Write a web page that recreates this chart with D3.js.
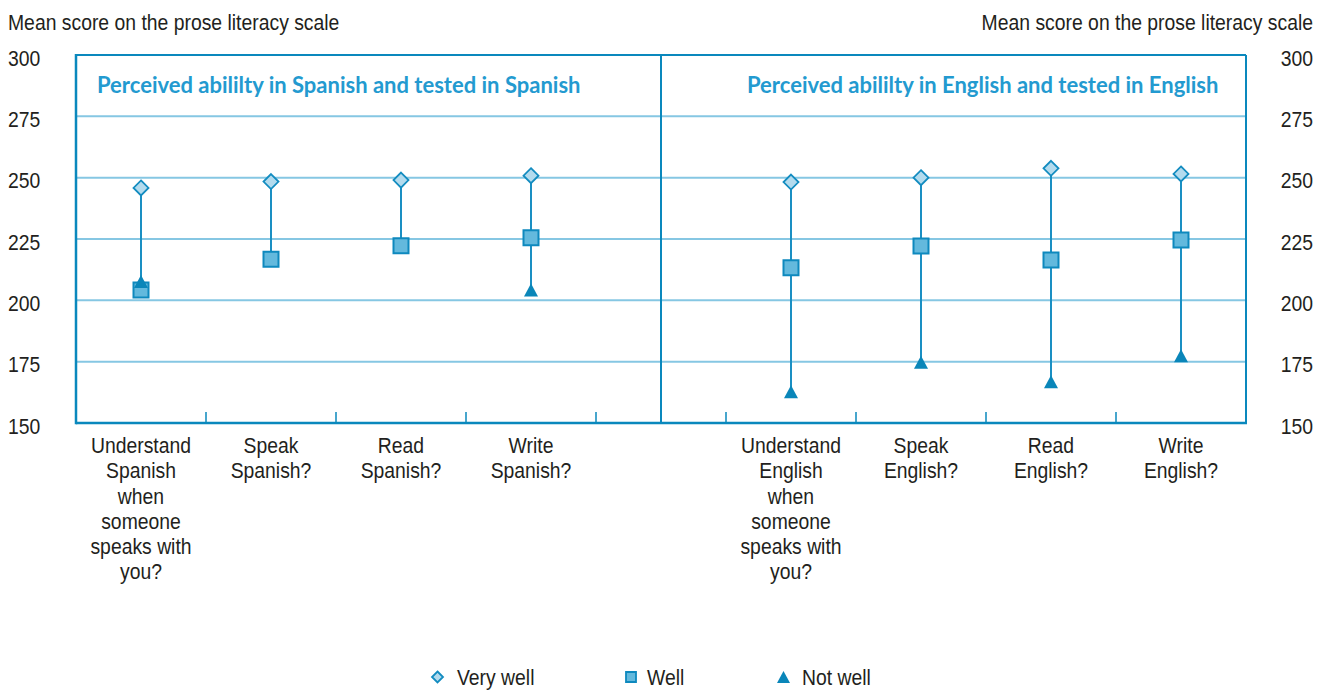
<!DOCTYPE html>
<html>
<head>
<meta charset="utf-8">
<script src="https://cdn.jsdelivr.net/npm/d3@7"></script>
<style>
  body { margin: 0; background: #fff; }
  svg { display: block; }
  .narrow { font-family: "Liberation Sans Narrow", "Arial Narrow", "Liberation Sans", sans-serif; font-size: 22px; fill: #231f20; }
  .panel-title { font-family: Lato, "Open Sans", sans-serif; font-weight: 700; font-size: 22px; fill: #239ad0; }
</style>
</head>
<body>
<svg id="chart" width="1327" height="690"></svg>
<script>
// Question keys, in drawing order; "gap" is the empty slot between the two panels
const categories = ["undES", "speakES", "readES", "writeES", "gap", "undEN", "speakEN", "readEN", "writeEN"];

// Multi-line question labels under each slot
const categoryLabels = {
  undES: ["Understand", "Spanish", "when", "someone", "speaks with", "you?"],
  speakES: ["Speak", "Spanish?"],
  readES: ["Read", "Spanish?"],
  writeES: ["Write", "Spanish?"],
  undEN: ["Understand", "English", "when", "someone", "speaks with", "you?"],
  speakEN: ["Speak", "English?"],
  readEN: ["Read", "English?"],
  writeEN: ["Write", "English?"]
};

const questions = ["undES", "speakES", "readES", "writeES", "undEN", "speakEN", "readEN", "writeEN"];

// Mean prose literacy score by self-rated ability
const veryWell = [245.8, 248.4, 249.0, 250.8, 248.2, 250.0, 253.8, 251.5];
const well     = [204.2, 216.7, 222.2, 225.5, 213.3, 222.1, 216.4, 224.6];
const notWell  = [207.7, null, null, 204.2, 162.7, 174.8, 166.8, 177.4];

const yTicks = [150, 175, 200, 225, 250, 275, 300];
const panelTitles = [
  { text: "Perceived abililty in Spanish and tested in Spanish", first: "undES" },
  { text: "Perceived abililty in English and tested in English", first: "undEN" }
];
const legendItems = ["Very well", "Well", "Not well"];
const axisTitle = "Mean score on the prose literacy scale";

const C = {
  frame: "#0a88bd",
  grid: "#86c7e3",
  stem: "#1a8fc3",
  diamondFill: "#b3dbee",
  diamondStroke: "#138cc0",
  squareFill: "#63b9dd",
  squareStroke: "#0e89be",
  triangle: "#0a86b9"
};

// Horizontal squeeze giving the regular sans a condensed look
const SQUEEZE = 0.88;
const place = (px, py) => `translate(${px},${py}) scale(${SQUEEZE},1)`;

const svg = d3.select("#chart");
const plotLeft = 76, plotRight = 1246, plotTop = 55, plotBottom = 423;

const x = d3.scaleBand().domain(categories).range([plotLeft, plotRight]).padding(0);
const y = d3.scaleLinear().domain([150, 300]).range([plotBottom, plotTop]);
const cx = k => x(k) + x.bandwidth() / 2;

// Horizontal gridlines
svg.append("g")
  .selectAll("line")
  .data(yTicks.filter(v => v > 150 && v < 300))
  .join("line")
  .attr("x1", plotLeft).attr("x2", plotRight)
  .attr("y1", d => y(d)).attr("y2", d => y(d))
  .attr("stroke", C.grid).attr("stroke-width", 2);

// Y tick labels on both sides
function styleYAxis(g, anchor) {
  g.attr("font-family", null).attr("font-size", null);
  g.select(".domain").remove();
  g.selectAll("text").attr("class", "narrow").attr("text-anchor", anchor)
    .attr("dy", null).attr("x", 0).attr("y", 0).attr("fill", null)
    .attr("transform", place(0, 10));
}
const gl = svg.append("g").attr("transform", "translate(8,0)")
  .call(d3.axisLeft(y).tickValues(yTicks).tickSize(0).tickPadding(0));
styleYAxis(gl, "start");
const gr = svg.append("g").attr("transform", "translate(1313,0)")
  .call(d3.axisRight(y).tickValues(yTicks).tickSize(0).tickPadding(0));
styleYAxis(gr, "end");

// Axis titles
svg.append("text").attr("class", "narrow").attr("transform", place(8, 30)).text(axisTitle);
svg.append("text").attr("class", "narrow").attr("transform", place(1313, 30))
  .attr("text-anchor", "end").text(axisTitle);

// Frame and panel divider
const frame = svg.append("g").attr("stroke", C.frame).attr("fill", "none");
frame.append("line").attr("x1", plotLeft).attr("x2", plotRight).attr("y1", plotTop).attr("y2", plotTop).attr("stroke-width", 2);
frame.append("line").attr("x1", plotRight).attr("x2", plotRight).attr("y1", plotTop).attr("y2", plotBottom).attr("stroke-width", 2);
frame.append("line").attr("x1", plotLeft).attr("x2", plotLeft).attr("y1", plotTop - 1).attr("y2", plotBottom + 1.25).attr("stroke-width", 2.5);
frame.append("line").attr("x1", plotLeft).attr("x2", plotRight + 1).attr("y1", plotBottom).attr("y2", plotBottom).attr("stroke-width", 2.5);
frame.append("line").attr("x1", cx("gap")).attr("x2", cx("gap")).attr("y1", plotTop).attr("y2", plotBottom).attr("stroke-width", 2);

// Tick marks at slot boundaries
frame.selectAll("line.tick")
  .data(categories.slice(1))
  .join("line").attr("class", "tick")
  .attr("x1", d => x(d)).attr("x2", d => x(d))
  .attr("y1", plotBottom).attr("y2", plotBottom - 11)
  .attr("stroke-width", 1.5);

// Panel titles
svg.selectAll("text.panel-title")
  .data(panelTitles)
  .join("text").attr("class", "panel-title")
  .attr("x", d => x(d.first) + 21).attr("y", 93)
  .text(d => d.text);

// Category labels
const labels = svg.append("g");
questions.forEach(k => {
  const t = labels.append("text").attr("class", "narrow")
    .attr("text-anchor", "middle")
    .attr("transform", place(cx(k), 453));
  categoryLabels[k].forEach((line, i) => {
    t.append("tspan").attr("x", 0).attr("dy", i === 0 ? 0 : 25.3).text(line);
  });
});

// Data rows
const rows = questions.map((k, i) => ({ key: k, vw: veryWell[i], w: well[i], nw: notWell[i] }));

// Range stems from lowest to highest score
svg.append("g").selectAll("line")
  .data(rows)
  .join("line")
  .attr("x1", d => cx(d.key)).attr("x2", d => cx(d.key))
  .attr("y1", d => y(d3.max([d.vw, d.w, d.nw].filter(v => v != null))))
  .attr("y2", d => y(d3.min([d.vw, d.w, d.nw].filter(v => v != null))))
  .attr("stroke", C.stem).attr("stroke-width", 2);

const diamond = s => `M0,${-s}L${s},0L0,${s}L${-s},0Z`;
const square = s => `M${-s},${-s}H${s}V${s}H${-s}Z`;
const triangle = (w, h) => `M0,${-h / 2}L${w / 2},${h / 2}L${-w / 2},${h / 2}Z`;

// Very well: diamonds
svg.append("g").selectAll("path")
  .data(rows)
  .join("path")
  .attr("transform", d => `translate(${cx(d.key)},${y(d.vw)})`)
  .attr("d", diamond(7.5))
  .attr("fill", C.diamondFill).attr("stroke", C.diamondStroke).attr("stroke-width", 1.8);

// Well: squares
svg.append("g").selectAll("path")
  .data(rows)
  .join("path")
  .attr("transform", d => `translate(${cx(d.key)},${y(d.w)})`)
  .attr("d", square(7.5))
  .attr("fill", C.squareFill).attr("stroke", C.squareStroke).attr("stroke-width", 2);

// Not well: triangles
svg.append("g").selectAll("path")
  .data(rows.filter(d => d.nw != null))
  .join("path")
  .attr("transform", d => `translate(${cx(d.key)},${y(d.nw)})`)
  .attr("d", triangle(14, 13))
  .attr("fill", C.triangle);

// Legend
const legend = svg.append("g");
const legendX = [437.5, 631, 783.5];
const legendTextX = [457, 647, 802];
const legendY = 677;
legend.append("path").attr("transform", `translate(${legendX[0]},${legendY})`)
  .attr("d", diamond(5.5)).attr("fill", C.diamondFill).attr("stroke", C.diamondStroke).attr("stroke-width", 1.8);
legend.append("path").attr("transform", `translate(${legendX[1]},${legendY})`)
  .attr("d", square(5)).attr("fill", C.squareFill).attr("stroke", C.squareStroke).attr("stroke-width", 1.8);
legend.append("path").attr("transform", `translate(${legendX[2]},${legendY})`)
  .attr("d", triangle(13, 12)).attr("fill", C.triangle);
legend.selectAll("text")
  .data(legendItems)
  .join("text").attr("class", "narrow")
  .attr("transform", (d, i) => place(legendTextX[i], 685))
  .text(d => d);
</script>
</body>
</html>
